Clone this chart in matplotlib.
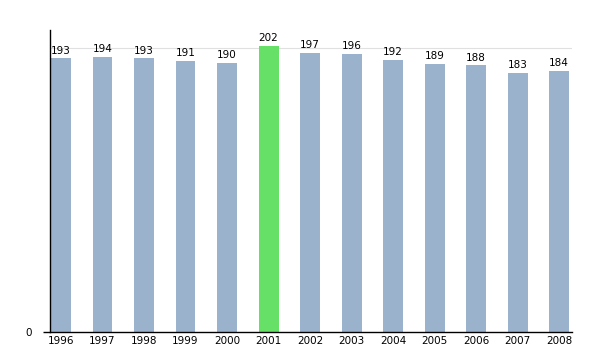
import matplotlib
matplotlib.use("Agg")
import matplotlib.pyplot as plt

years = ["1996", "1997", "1998", "1999", "2000", "2001", "2002",
         "2003", "2004", "2005", "2006", "2007", "2008"]
values = [193, 194, 193, 191, 190, 202, 197, 196, 192, 189, 188, 183, 184]
highlight = "2001"

fig = plt.figure(figsize=(6, 3.5), dpi=100)
ax = fig.add_axes([50/600, 18/350, 522/600, 302/350])

x = list(range(len(years)))
colors = ["#66e066" if y == highlight else "#9ab2cc" for y in years]
ax.bar(x, values, width=0.48, color=colors, zorder=2)
for xi, v in zip(x, values):
    ax.text(xi, v + 2, str(v), ha="center", va="bottom", fontsize=7.5, zorder=3)

ax.set_xlim(-0.265, 12.31)
ax.set_ylim(0, 213)
ax.set_yticks([0])
ax.set_yticklabels(["0"])
ax.axhline(200, color="#e0e0e0", lw=0.8, zorder=1)
ax.tick_params(axis="y", length=5, width=1, labelsize=7.5, pad=8)
ax.tick_params(axis="x", length=0, labelsize=7.5, pad=3)
ax.set_xticks(x)
ax.set_xticklabels(years)
for s in ["top", "right"]:
    ax.spines[s].set_visible(False)
ax.spines["left"].set_linewidth(1)
ax.spines["bottom"].set_linewidth(1)

fig.savefig("out.png", dpi=100)
